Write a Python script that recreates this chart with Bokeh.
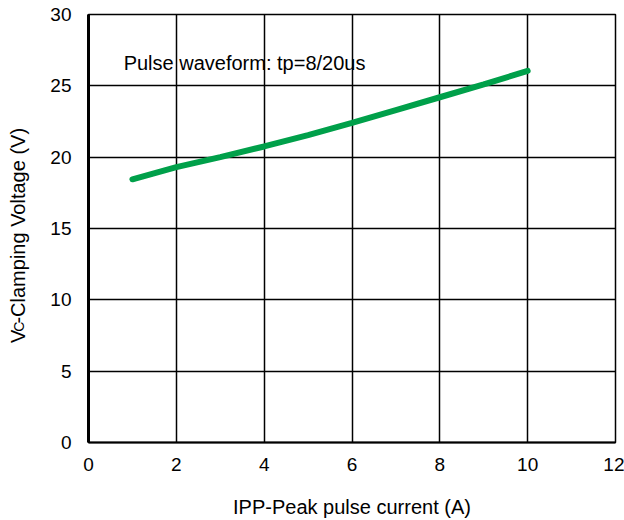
import math
from bokeh.plotting import figure
from bokeh.models import Label, FixedTicker
from bokeh.layouts import row
from bokeh.embed import file_html
from bokeh.resources import INLINE

# data
current = [1, 2, 3, 4, 5, 6, 7, 8, 9, 10]
voltage = [18.45, 19.3, 20.0, 20.75, 21.55, 22.4, 23.3, 24.2, 25.1, 26.05]
x_ticks = [0, 2, 4, 6, 8, 10, 12]
y_ticks = [0, 5, 10, 15, 20, 25, 30]
x_title = "IPP-Peak pulse current (A)"
y_title_parts = ["V", "C", "-Clamping Voltage (V)"]
note = "Pulse waveform: tp=8/20us"

FONT = "Liberation Sans"
H = 520

# ---- narrow figure holding the rotated y title ----
t = figure(width=40, height=H, x_range=(0, 40), y_range=(0, H),
           output_backend="svg", toolbar_location=None,
           min_border_left=0, min_border_right=0, min_border_top=0,
           min_border_bottom=0, x_axis_type=None, y_axis_type=None)
t.outline_line_color = None
t.grid.visible = False
t.background_fill_color = "white"
t.border_fill_color = "white"
t.add_layout(Label(x=17, y=H - 399, text=y_title_parts[0], angle=math.pi / 2,
                   text_font=FONT, text_font_size="20px", text_color="black",
                   text_baseline="alphabetic", text_align="left"))
t.add_layout(Label(x=18.5, y=H - 385.5, text=y_title_parts[1], angle=math.pi / 2,
                   text_font=FONT, text_font_size="14px", text_color="black",
                   text_baseline="alphabetic", text_align="left"))
t.add_layout(Label(x=17, y=H - 375.5, text=y_title_parts[2], angle=math.pi / 2,
                   text_font=FONT, text_font_size="20px", text_color="black",
                   text_baseline="alphabetic", text_align="left"))

# ---- main chart ----
p = figure(width=584, height=H, x_range=(0, 12), y_range=(0, 30),
           output_backend="svg", toolbar_location=None,
           min_border_left=48, min_border_right=9, min_border_top=14,
           min_border_bottom=78)
p.background_fill_color = "white"
p.border_fill_color = "white"
p.outline_line_color = "black"
p.outline_line_width = 1.5

for ax in (p.xaxis[0], p.yaxis[0]):
    ax.major_tick_line_color = None
    ax.minor_tick_line_color = None
    ax.axis_line_color = "black"
    ax.major_label_text_font = FONT
    ax.major_label_text_font_size = "19px"
    ax.major_label_text_color = "black"
p.xaxis.ticker = FixedTicker(ticks=x_ticks)
p.yaxis.ticker = FixedTicker(ticks=y_ticks)
p.xaxis.axis_line_width = 2
p.yaxis.axis_line_width = 3
p.xaxis.major_label_standoff = 9
p.yaxis.major_label_standoff = 11

p.xaxis.axis_label = x_title
p.xaxis.axis_label_text_font = FONT
p.xaxis.axis_label_text_font_size = "20px"
p.xaxis.axis_label_text_font_style = "normal"
p.xaxis.axis_label_text_color = "black"
p.xaxis.axis_label_standoff = 22

p.xgrid.ticker = FixedTicker(ticks=x_ticks)
p.ygrid.ticker = FixedTicker(ticks=y_ticks)
for g in (p.xgrid[0], p.ygrid[0]):
    g.grid_line_color = "black"
    g.grid_line_width = 1.5
    g.grid_line_alpha = 1.0

p.line(current, voltage, line_color="#00a04a", line_width=6, line_cap="round")

p.add_layout(Label(x=0.8, y=26.6, text=note,
                   text_font=FONT, text_font_size="20px", text_color="black",
                   text_baseline="alphabetic", text_align="left"))

open("out.html", "w").write(file_html(row(t, p), INLINE))
